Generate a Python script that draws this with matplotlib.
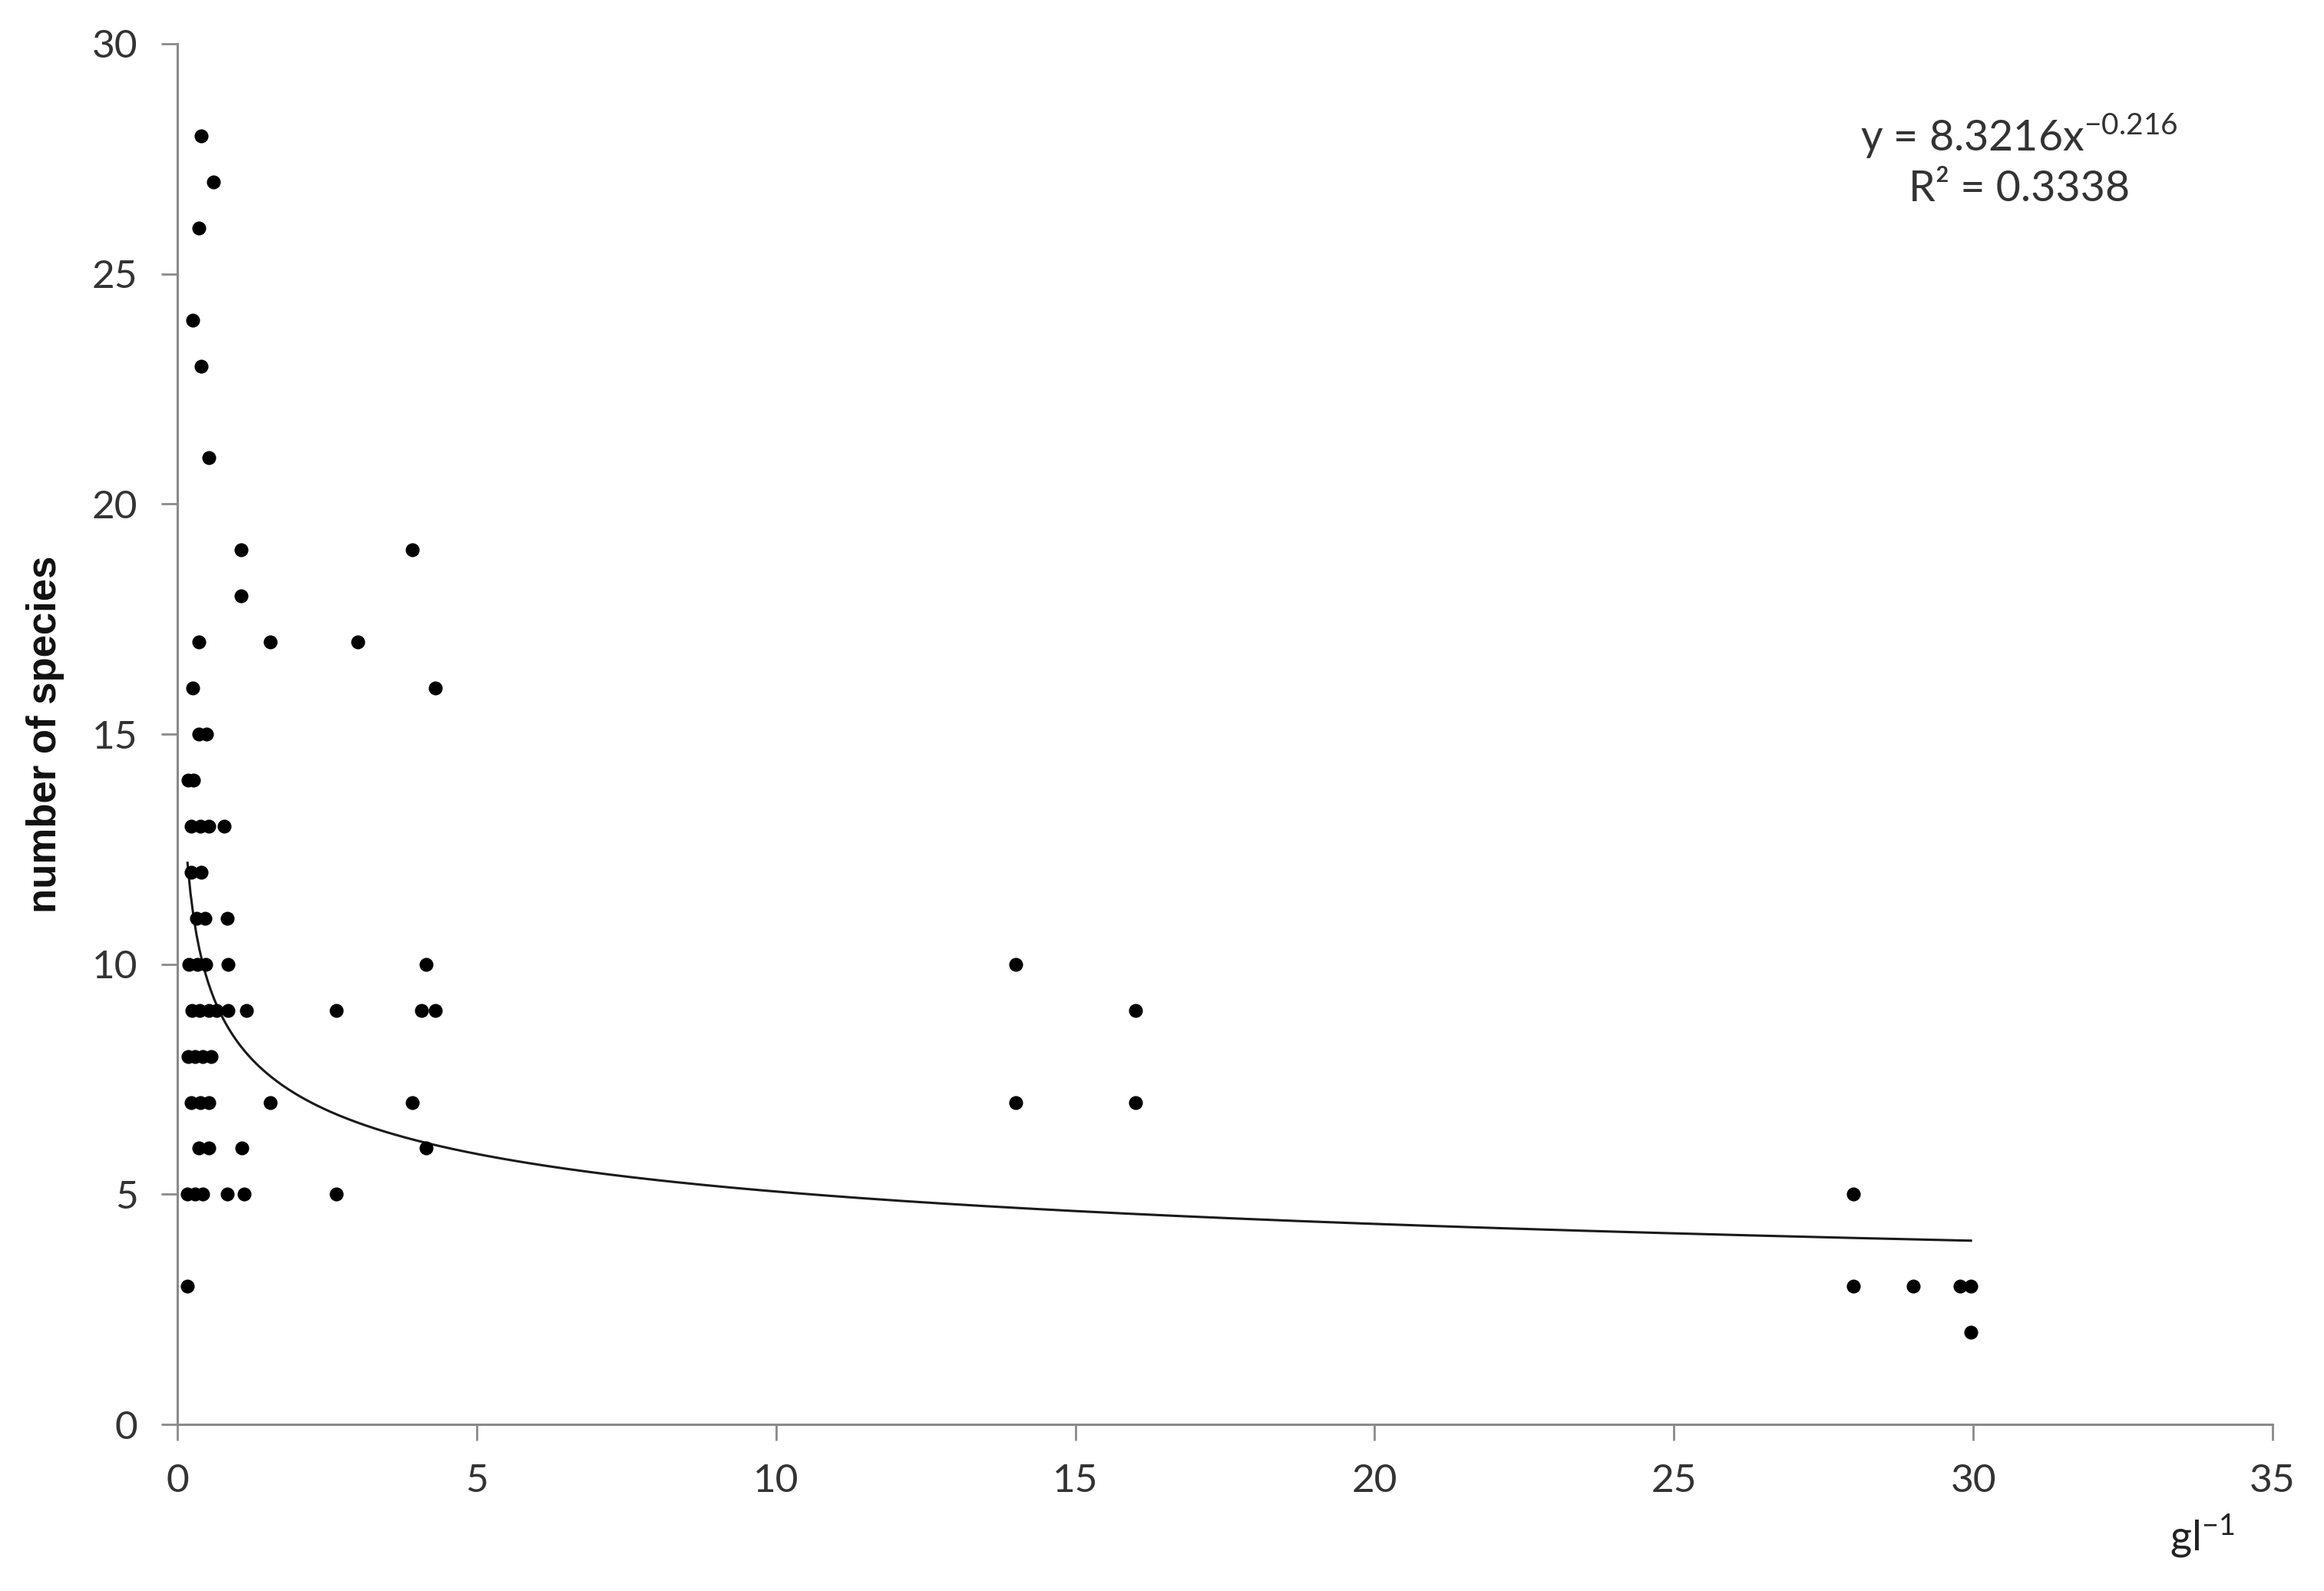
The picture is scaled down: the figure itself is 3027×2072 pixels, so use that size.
import matplotlib
matplotlib.use("Agg")
import matplotlib.pyplot as plt
import numpy as np

# ---- data ----
salinity = [
    0.40, 0.60, 0.36, 0.26, 0.40, 0.52,
    1.07, 3.92, 1.07,
    0.36, 1.55, 3.01,
    0.26, 4.31,
    0.36, 0.49,
    0.18, 0.27,
    0.23, 0.38, 0.53, 0.78,
    0.23, 0.40,
    0.32, 0.46, 0.83,
    0.19, 0.33, 0.48, 0.85, 4.16, 14.0,
    0.24, 0.37, 0.53, 0.65, 0.85, 1.15, 2.66, 4.08, 4.31, 16.0,
    0.18, 0.30, 0.42, 0.56,
    0.23, 0.38, 0.53, 1.55, 3.92, 14.0, 16.0,
    0.36, 0.53, 1.08, 4.16,
    0.17, 0.30, 0.42, 0.83, 1.12, 2.66, 28.0,
    0.17, 28.0, 29.0, 29.78, 29.96,
    29.96,
]
species = [
    28, 27, 26, 24, 23, 21,
    19, 19, 18,
    17, 17, 17,
    16, 16,
    15, 15,
    14, 14,
    13, 13, 13, 13,
    12, 12,
    11, 11, 11,
    10, 10, 10, 10, 10, 10,
    9, 9, 9, 9, 9, 9, 9, 9, 9, 9,
    8, 8, 8, 8,
    7, 7, 7, 7, 7, 7, 7,
    6, 6, 6, 6,
    5, 5, 5, 5, 5, 5, 5,
    3, 3, 3, 3, 3,
    2,
]
fit_a = 8.3216
fit_b = -0.216
r2 = 0.3338
x_ticks = [0, 5, 10, 15, 20, 25, 30, 35]
y_ticks = [0, 5, 10, 15, 20, 25, 30]

# ---- figure ----
fig = plt.figure(figsize=(30.27, 20.72), dpi=100)
ax = fig.add_axes([0.0763, 0.1047, 0.9016, 0.8678])

ax.scatter(salinity, species, s=170, color="black", zorder=3, linewidths=0)

xf = np.linspace(min(salinity), max(salinity), 600)
ax.plot(xf, fit_a * xf ** fit_b, color="#1a1a1a", lw=2.2, zorder=2)

ax.set_xlim(0, 35)
ax.set_ylim(0, 30)
ax.set_xticks(x_ticks)
ax.set_yticks(y_ticks)

for s in ["top", "right"]:
    ax.spines[s].set_visible(False)
for s in ["left", "bottom"]:
    ax.spines[s].set_color("#8a8a8a")
    ax.spines[s].set_linewidth(2.2)

tick_font = "Lato"
ax.tick_params(axis="both", direction="out", length=15, width=2, color="#8a8a8a",
               labelsize=37, labelcolor="#333333")
ax.tick_params(axis="y", pad=22)
ax.tick_params(axis="x", pad=22)
for lab in ax.get_xticklabels() + ax.get_yticklabels():
    lab.set_fontfamily(tick_font)

ax.set_ylabel("number of species", fontsize=38, fontweight="bold",
              fontfamily="Liberation Sans", labelpad=26, color="#111111")

fig.text(2868 / 3027, 1 - 2000 / 2072, r"gl$^{\mathregular{-1}}$", fontsize=39,
         fontfamily=tick_font, ha="center", va="center", color="#222222")

fig.text(2630 / 3027, 1 - 176 / 2072,
         "y = 8.3216x$^{\\mathregular{-0.216}}$",
         fontsize=40, fontfamily=tick_font, ha="center", va="center", color="#333333")
fig.text(2630 / 3027, 1 - 246 / 2072,
         "R² = 0.3338",
         fontsize=40, fontfamily=tick_font, ha="center", va="center", color="#333333")

fig.savefig("out.png", dpi=100)
